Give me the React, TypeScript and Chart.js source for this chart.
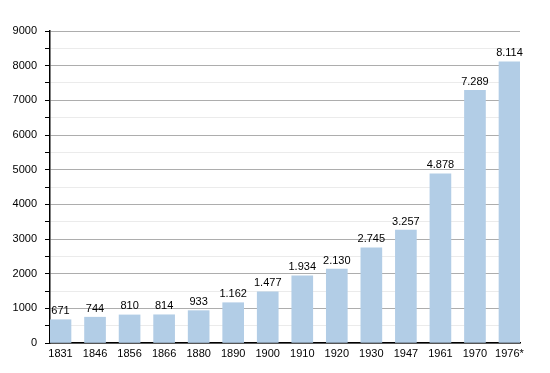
import React, { useEffect, useRef } from "react";
import { Chart, registerables } from "chart.js";

Chart.register(...registerables);

const categories = ["1831", "1846", "1856", "1866", "1880", "1890", "1900", "1910", "1920", "1930", "1947", "1961", "1970", "1976*"];
const population = [671, 744, 810, 814, 933, 1162, 1477, 1934, 2130, 2745, 3257, 4878, 7289, 8114];
const valueLabels = ["671", "744", "810", "814", "933", "1.162", "1.477", "1.934", "2.130", "2.745", "3.257", "4.878", "7.289", "8.114"];

const FONT = "'Liberation Sans', Arial, Helvetica, sans-serif";

const valueLabelPlugin = {
  id: "valueLabels",
  afterDatasetsDraw(chart: any) {
    const ctx = chart.ctx;
    const meta = chart.getDatasetMeta(0);
    ctx.save();
    ctx.font = `11px ${FONT}`;
    ctx.fillStyle = "#000";
    ctx.textAlign = "center";
    ctx.textBaseline = "bottom";
    meta.data.forEach((bar: any, i: number) => {
      ctx.fillText(valueLabels[i], bar.x, bar.y - 3);
    });
    ctx.restore();
  },
};

export default function App() {
  const ref = useRef<HTMLCanvasElement>(null);
  useEffect(() => {
    if (!ref.current) return;
    const chart = new Chart(ref.current, {
      type: "bar",
      data: {
        datasets: [
          {
            data: population.map((v, i) => ({ x: i, y: v })),
            backgroundColor: "#b2cde6",
            barThickness: 21,
          },
        ],
      },
      options: {
        animation: false,
        responsive: false,
        maintainAspectRatio: false,
        layout: { padding: { top: 31, right: 30, left: 0, bottom: 0 } },
        plugins: { legend: { display: false }, tooltip: { enabled: false } },
        scales: {
          x: {
            type: "linear",
            min: -0.304,
            max: 13.304,
            offset: false,
            afterBuildTicks: (scale: any) => {
              scale.ticks = categories.map((_, i) => ({ value: i }));
            },
            afterFit: (scale: any) => {
              scale.height = 30;
            },
            grid: { display: false, drawTicks: false },
            border: { display: true, color: "#000", width: 1.5 },
            ticks: {
              autoSkip: false,
              maxRotation: 0,
              padding: 4,
              color: "#000",
              font: { family: FONT, size: 11 },
              callback: (v: any) => categories[Math.round(Number(v))] ?? "",
            },
          },
          y: {
            min: 0,
            max: 9000,
            afterFit: (scale: any) => {
              scale.width = 50;
            },
            grid: {
              color: (c: any) => (c.tick && c.tick.value % 1000 === 0 ? "#adadad" : "#ebebeb"),
              tickColor: "#000",
              tickLength: 5,
            },
            border: { display: true, color: "#000", width: 1.5 },
            ticks: {
              stepSize: 500,
              padding: 8,
              color: "#000",
              font: { family: FONT, size: 11 },
              callback: (v: any) => (Number(v) % 1000 === 0 ? String(v) : ""),
            },
          },
        },
      },
      plugins: [valueLabelPlugin],
    });
    return () => chart.destroy();
  }, []);
  return (
    <div style={{ position: "fixed", left: 0, top: 0, width: 550, height: 373, background: "#fff" }}>
      <canvas ref={ref} width={550} height={373} />
    </div>
  );
}
